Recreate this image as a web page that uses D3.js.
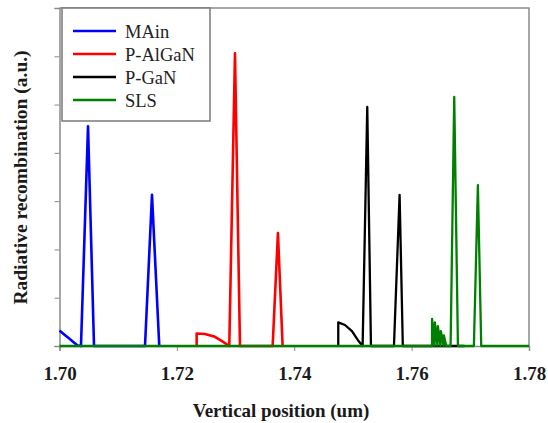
<!DOCTYPE html>
<html>
<head>
<meta charset="utf-8">
<script src="https://cdn.jsdelivr.net/npm/d3@7"></script>
<style>
  body { margin: 0; background: #fff; }
  svg { display: block; }
  text { font-family: "Liberation Serif", "Times New Roman", serif; }
</style>
</head>
<body>
<div id="container"></div>
<script>
// series values (position in um, radiative recombination in a.u.)
const mainPos = [1.7000, 1.7008, 1.7016, 1.7024, 1.7031, 1.70366, 1.70486, 1.70588, 1.71031, 1.71457, 1.71576, 1.71700];
const mainVal = [0.32, 0.24, 0.16, 0.08, 0.01, 0, 4.55, 0, 0, 0, 3.13, 0];

const alganPos = [1.72337, 1.72337, 1.72479, 1.72649, 1.72768, 1.72893, 1.72990, 1.73075, 1.73632, 1.73722, 1.73802];
const alganVal = [0, 0.26, 0.25, 0.19, 0.10, 0, 6.06, 0, 0, 2.34, 0];

const ganPos = [1.74750, 1.74750, 1.74864, 1.74983, 1.75085, 1.75165, 1.75244, 1.75307, 1.75516, 1.75699, 1.75795, 1.75850, 1.76900];
const ganVal = [0, 0.49, 0.435, 0.31, 0.12, 0, 4.95, 0, 0, 0, 3.13, 0, 0];

const slsPos = [1.7000, 1.76348, 1.76348, 1.76390, 1.76396, 1.76440, 1.76447, 1.76492, 1.76498, 1.76545, 1.76550, 1.76590,
  1.76664, 1.76726, 1.76789, 1.77061, 1.77129, 1.77186, 1.7800];
const slsVal = [0, 0, 0.56, 0, 0.49, 0, 0.41, 0, 0.31, 0, 0.22, 0,
  0, 5.16, 0, 0, 3.33, 0, 0];

const seriesNames = ['MAin', 'P-AlGaN', 'P-GaN', 'SLS'];
const seriesColors = ['#0000ff', '#ff0000', '#000000', '#008000'];
const xTicks = [1.70, 1.72, 1.74, 1.76, 1.78];
const yTicks = [0, 1, 2, 3, 4, 5, 6, 7];

const svgWidth = 548,
  svgHeight = 423;
const plotLeft = 59.5,
  plotRight = 529,
  plotTop = 8,
  plotBottom = 346;

const svg = d3
  .select('#container')
  .append('svg')
  .attr('width', svgWidth)
  .attr('height', svgHeight);

const xScale = d3.scaleLinear().domain([1.70, 1.78]).range([plotLeft, plotRight]);
const yScale = d3.scaleLinear().domain([0, 7]).range([plotBottom, plotTop]);

// frame (top + right)
svg
  .append('path')
  .attr('d', `M${plotLeft},${plotTop}H${plotRight}V${plotBottom}`)
  .attr('fill', 'none')
  .attr('stroke', '#8a8a8a')
  .attr('stroke-width', 1.5);

// axes
const xAxis = d3
  .axisBottom(xScale)
  .tickValues(xTicks)
  .tickSize(5)
  .tickFormat(d3.format('.2f'));
const yAxis = d3.axisLeft(yScale).tickValues(yTicks).tickSize(5).tickFormat('');

const gx = svg
  .append('g')
  .attr('transform', `translate(0,${plotBottom})`)
  .call(xAxis);
const gy = svg
  .append('g')
  .attr('transform', `translate(${plotLeft},0)`)
  .call(yAxis);

[gx, gy].forEach((g) => {
  g.select('.domain').attr('stroke', '#8a8a8a').attr('stroke-width', 1.5);
  g.selectAll('.tick line').attr('stroke', '#8a8a8a').attr('stroke-width', 1);
});
gx.selectAll('.tick text')
  .attr('y', 21)
  .attr('dy', '0.71em')
  .style('font-family', '"Liberation Serif", serif')
  .style('font-size', '19px')
  .style('font-weight', 'bold')
  .attr('fill', '#1a1a1a');

// lines
const line = d3
  .line()
  .x((d) => xScale(d[0]))
  .y((d) => yScale(d[1]));

const seriesData = [
  d3.zip(mainPos, mainVal),
  d3.zip(alganPos, alganVal),
  d3.zip(ganPos, ganVal),
  d3.zip(slsPos, slsVal),
];

svg
  .selectAll('.series')
  .data(seriesData)
  .enter()
  .append('path')
  .attr('class', 'series')
  .attr('d', line)
  .attr('fill', 'none')
  .attr('stroke', (d, i) => seriesColors[i])
  .attr('stroke-width', (d, i) => (i < 2 ? 2.6 : 2.3))
  .attr('stroke-linejoin', 'round');

// legend
const legend = svg.append('g');
legend
  .append('rect')
  .attr('x', 62)
  .attr('y', plotTop)
  .attr('width', 148)
  .attr('height', 113)
  .attr('fill', '#fff')
  .attr('stroke', '#7a7a7a')
  .attr('stroke-width', 1.5);

const items = legend
  .selectAll('.item')
  .data(seriesNames)
  .enter()
  .append('g')
  .attr('class', 'item')
  .attr('transform', (d, i) => `translate(0,${31 + i * 23})`);

items
  .append('line')
  .attr('x1', 73)
  .attr('x2', 116)
  .attr('stroke', (d, i) => seriesColors[i])
  .attr('stroke-width', 2.6);

items
  .append('text')
  .attr('x', 125)
  .attr('y', 6.5)
  .text((d) => d)
  .style('font-size', '18.5px')
  .attr('fill', '#222');

// axis titles
svg
  .append('text')
  .attr('x', 281)
  .attr('y', 417)
  .attr('text-anchor', 'middle')
  .style('font-size', '19px')
  .style('font-weight', 'bold')
  .attr('fill', '#1a1a1a')
  .text('Vertical position (um)');

svg
  .append('text')
  .attr('transform', 'translate(27,177.5) rotate(-90)')
  .attr('text-anchor', 'middle')
  .style('font-size', '19.5px')
  .style('font-weight', 'bold')
  .attr('fill', '#1a1a1a')
  .text('Radiative recombination (a.u.)');
</script>
</body>
</html>
